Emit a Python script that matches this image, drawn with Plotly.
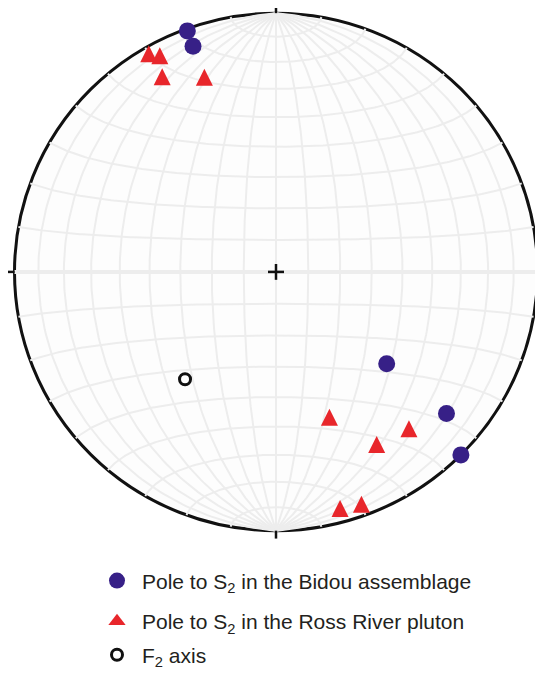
import numpy as np
import plotly.graph_objects as go

# ---------------- data (trend / plunge in degrees, lower hemisphere) -------------
bidou_trend = [340, 340, 130, 130, 135]
bidou_plunge = [1, 8, 44, 16, 0]

ross_trend = [330, 332, 330, 340, 160, 140, 150, 165, 160]
ross_plunge = [3, 6, 14, 21, 40, 22, 24, 6, 5]

f2_trend = [220]
f2_plunge = [45]

legend_labels = [
    "Pole to S<sub>2</sub> in the Bidou assemblage",
    "Pole to S<sub>2</sub> in the Ross River pluton",
    "F<sub>2</sub> axis",
]

grid_step = 10  # degrees


# ---------------- equal-area (Schmidt) projection ----------------
def project_vec(e, n, d):
    k = 1.0 / np.sqrt(1.0 + d)
    return e * k, n * k


def project_line(trend, plunge):
    t = np.radians(np.asarray(trend, float))
    p = np.radians(np.asarray(plunge, float))
    e = np.cos(p) * np.sin(t)
    n = np.cos(p) * np.cos(t)
    d = np.sin(p)
    return project_vec(e, n, d)


# net: great circles through N & S, small circles about the N-S axis
gx, gy = [], []
s = np.linspace(0, np.pi, 181)
for dip in range(grid_step, 180, grid_step):
    if dip == 90:
        continue
    dr = np.radians(dip)
    e = np.sin(s) * np.cos(dr)
    n = np.cos(s)
    d = np.abs(np.sin(s) * np.sin(dr))
    x, y = project_vec(e, n, d)
    gx += list(x) + [None]
    gy += list(y) + [None]
gx += [0, 0, None]
gy += [1, -1, None]
for a in range(grid_step, 180, grid_step):
    if a == 90:
        continue
    ar = np.radians(a)
    e = np.sin(ar) * np.cos(s)
    n = np.cos(ar) * np.ones_like(s)
    d = np.sin(ar) * np.sin(s)
    x, y = project_vec(e, n, d)
    gx += list(x) + [None]
    gy += list(y) + [None]

fig = go.Figure()
fig.add_trace(go.Scatter(x=gx, y=gy, mode="lines",
                         line=dict(color="#ededed", width=2),
                         hoverinfo="skip", showlegend=False))
fig.add_trace(go.Scatter(x=[-1, 1], y=[0, 0], mode="lines",
                         line=dict(color="#ededed", width=4),
                         hoverinfo="skip", showlegend=False))

bx, by = project_line(bidou_trend, bidou_plunge)
rx, ry = project_line(ross_trend, ross_plunge)
fx, fy = project_line(f2_trend, f2_plunge)

RED = "#e8262b"
BLUE = "#372087"
tri = 17
# plotted triangles (equal width/height, centred on the point)
fig.add_trace(go.Scatter(
    x=rx, y=ry, mode="markers", name=legend_labels[1], showlegend=False,
    marker=dict(symbol="arrow-down", angle=180, standoff=tri / 2, size=tri,
                color=RED, line=dict(width=0))))
# legend entry for the triangles
fig.add_trace(go.Scatter(
    x=[None], y=[None], mode="markers", name=legend_labels[1], legend="legend2",
    marker=dict(symbol="triangle-up", size=15, color=RED, line=dict(width=0))))
fig.add_trace(go.Scatter(
    x=bx, y=by, mode="markers", name=legend_labels[0], legend="legend",
    marker=dict(symbol="circle", size=17, color=BLUE, line=dict(width=0))))
fig.add_trace(go.Scatter(
    x=fx, y=fy, mode="markers", name=legend_labels[2], legend="legend3",
    marker=dict(symbol="circle", size=11, color="white",
                line=dict(color="#111111", width=3))))

# page has an 8px body margin: figure occupies page pixels 8..543 / 8..676
OFF = 8
W, H = 543 - OFF, 676 - OFF
R = 261.5
cx, cy = 276.0 - OFF, 274.7 - OFF
tick = 8 / R
arm = 8 / R
shapes = [
    dict(type="circle", xref="x", yref="y", x0=-1, y0=-1, x1=1, y1=1,
         line=dict(color="#111111", width=3), fillcolor="#fdfdfd", layer="below"),
]
for (x0, y0, x1, y1) in [(0, 1, 0, 1 + tick), (0, -1, 0, -1 - tick),
                         (1, 0, 1 + tick, 0), (-1, 0, -1 - tick, 0),
                         (-arm, 0, arm, 0), (0, -arm, 0, arm)]:
    shapes.append(dict(type="line", xref="x", yref="y", x0=x0, y0=y0, x1=x1, y1=y1,
                       line=dict(color="#111111", width=2.5), layer="above"))

font = dict(family="Liberation Sans, Arial, sans-serif", size=21, color="#231f20")


def leg(ypix):
    return dict(x=(92 - OFF) / W, xanchor="left", y=1 - (ypix - OFF) / H,
                yanchor="middle", bgcolor="rgba(0,0,0,0)", font=font, itemwidth=40)


fig.update_layout(
    width=W, height=H,
    margin=dict(l=0, r=0, t=0, b=0),
    paper_bgcolor="white", plot_bgcolor="white",
    xaxis=dict(range=[-cx / R, (W - cx) / R], visible=False, fixedrange=True),
    yaxis=dict(range=[(cy - H) / R, cy / R], visible=False, fixedrange=True),
    shapes=shapes,
    showlegend=True,
    legend=leg(587),
    legend2=leg(628),
    legend3=leg(662),
    hovermode=False,
)

fig.write_html("out.html")
